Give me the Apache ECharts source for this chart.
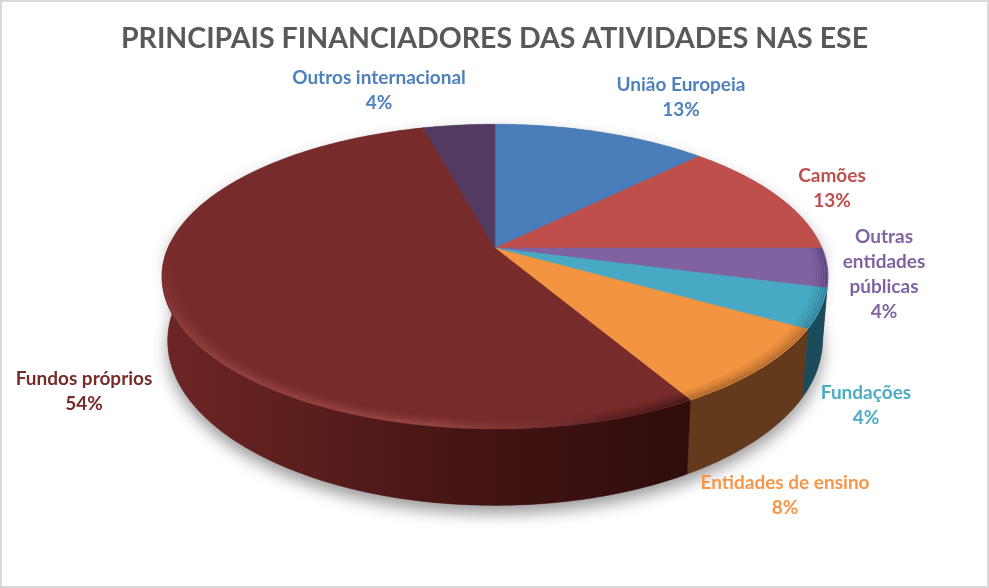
<!DOCTYPE html>
<html>
<head>
<meta charset="utf-8">
<style>
    html,body{margin:0;padding:0;background:#fff;}
    #chart{width:989px;height:588px;}
</style>
<script src="https://cdn.jsdelivr.net/npm/echarts@6/dist/echarts.min.js"></script>
</head>
<body>
<div id="chart"></div>
<script>
const categories = ['União Europeia', 'Camões', 'Outras\nentidades\npúblicas', 'Fundações', 'Entidades de ensino', 'Fundos próprios', 'Outros internacional'];
const shares = [12.5, 12.5, 4.17, 4.17, 8.33, 54.17, 4.17];
const titleText = 'PRINCIPAIS FINANCIADORES DAS ATIVIDADES NAS ESE';

// slice look, same order as categories
const topColors = ['#4A7EBB', '#BE4F4B', '#8062A0', '#47A9C3', '#F39441', '#772B2A', '#533A60'];
const wallColors = ['#2b4a70', '#703030', '#3c2c55', '#1A4C5C', '#633A1C', '#5a1e1e', '#33243f'];
const labelColors = ['#4F81BD', '#C0504D', '#8064A2', '#4BACC6', '#F79646', '#772C2A', '#4F81BD'];
const rimColors = ['40,60,100', '80,30,30', '40,28,70', '20,70,90', '90,50,20', '175,95,90', '40,28,60'];
// centre of the first text line
const labelSpots = [[681, 85], [832, 176], [884, 237], [866, 393], [785, 483], [84, 379], [379, 78]];

// projected disc: apex of the pie, radii, perspective and thickness
const cx = 495, cy = 248, ra = 327, rb = 147, persp = 0.188, depth = 62, footShrink = 0.983;

const total = shares.reduce((a, b) => a + b, 0);

function sliceAngles(i) {
    let before = 0;
    for (let j = 0; j < i; j++) before += shares[j];
    return [before / total * 360, (before + shares[i]) / total * 360];
}

function rimPoint(deg, r, drop) {
    const t = deg * Math.PI / 180;
    const u = Math.sin(t) * r, v = Math.cos(t) * r;
    const w = 1 + persp * v;
    const sx = drop ? footShrink : 1;
    return [cx + ra * sx * u / w, cy - rb * v / w + (drop || 0) / w];
}

function arc(from, to, r, drop) {
    const pts = [];
    const n = Math.max(2, Math.ceil(Math.abs(to - from)));
    for (let i = 0; i <= n; i++) pts.push(rimPoint(from + (to - from) * i / n, r, drop));
    return pts;
}

function wallFill(i) {
    if (i !== 5) return wallColors[i];
    return new echarts.graphic.LinearGradient(165, 0, 690, 0, [
        {offset: 0, color: '#6c2524'},
        {offset: 0.25, color: '#5c1f1e'},
        {offset: 0.55, color: '#451514'},
        {offset: 0.85, color: '#380f0f'},
        {offset: 1, color: '#2f0c0c'}
    ], true);
}

// the maroon bevel shines on the left and front, and turns dark towards the orange slice
function frontGlow(alpha) {
    return new echarts.graphic.LinearGradient(687, 0, 440, 0, [
        {offset: 0, color: 'rgba(35,10,10,' + alpha * 1.4 + ')'},
        {offset: 0.3, color: 'rgba(50,15,15,' + alpha + ')'},
        {offset: 0.6, color: 'rgba(120,60,58,' + alpha * 0.6 + ')'},
        {offset: 1, color: 'rgba(185,100,95,' + alpha + ')'}
    ], true);
}

function sideGlow(alpha) {
    return new echarts.graphic.LinearGradient(0, 432, 0, 255, [
        {offset: 0, color: 'rgba(185,100,95,' + alpha + ')'},
        {offset: 0.6, color: 'rgba(185,100,95,' + alpha + ')'},
        {offset: 1, color: 'rgba(185,100,95,0)'}
    ], true);
}

function bevelLines(from, to, stroke) {
    const layers = [[0.96, 0.06], [0.967, 0.12], [0.974, 0.18], [0.981, 0.26], [0.988, 0.36], [0.995, 0.44]];
    return layers.map(function (b) {
        return {
            type: 'polyline',
            shape: {points: arc(from, to, b[0], 0)},
            style: {fill: 'none', stroke: stroke(b[1]), lineWidth: 1.6}
        };
    });
}

function renderShadow() {
    const pts = arc(90, 270, 1, depth).concat(arc(270, 450, 1, 0));
    return {
        type: 'polygon',
        shape: {points: pts},
        style: {fill: '#777', shadowBlur: 16, shadowColor: 'rgba(0,0,0,0.4)', shadowOffsetY: 8, shadowOffsetX: 0}
    };
}

function renderWall(params, api) {
    const i = api.value(0);
    const a = sliceAngles(i);
    const from = Math.max(a[0], 90), to = Math.min(a[1], 272);
    if (to <= from) return null;
    const pts = arc(from, to, 1, 0).concat(arc(to, from, 1, depth));
    return {
        type: 'polygon',
        shape: {points: pts},
        style: {fill: wallFill(i), stroke: wallFill(i), lineWidth: 0.5}
    };
}

function renderTop(params, api) {
    const i = api.value(0);
    const a = sliceAngles(i);
    let children = [{
        type: 'polygon',
        shape: {points: [[cx, cy]].concat(arc(a[0], a[1], 1, 0))},
        style: {fill: topColors[i], stroke: topColors[i], lineWidth: 0.5}
    }];
    if (i === 5) {
        const bend = 192;
        children = children.concat(bevelLines(a[0], bend, frontGlow), bevelLines(bend, 272, sideGlow));
    } else if (a[1] > 90 && a[0] < 270) {
        const rgb = rimColors[i];
        children = children.concat(bevelLines(a[0], a[1], function (alpha) {
            return 'rgba(' + rgb + ',' + alpha + ')';
        }));
    }
    return {type: 'group', children: children};
}

function renderLabel(params, api) {
    const i = api.value(0);
    const spot = labelSpots[i];
    return {
        type: 'text',
        style: {
            x: spot[0],
            y: spot[1] - 12.5,
            text: categories[i] + '\n' + Math.round(api.value(1)) + '%',
            fill: labelColors[i],
            font: 'bold 19px Lato',
            align: 'center',
            verticalAlign: 'top',
            lineHeight: 25
        }
    };
}

const sliceData = shares.map((v, i) => [i, v]);

const chart = echarts.init(document.getElementById('chart'), null, {renderer: 'canvas'});
chart.setOption({
    animation: false,
    backgroundColor: '#fff',
    title: {
        text: titleText,
        left: 'center',
        top: 19,
        textStyle: {color: '#595959', fontFamily: 'Lato', fontWeight: 'bold', fontSize: 28.5}
    },
    graphic: [{
        type: 'rect',
        silent: true,
        z: -1,
        shape: {x: 0, y: 0, width: 989, height: 588},
        style: {fill: 'none', stroke: '#d9d9d9', lineWidth: 4}
    }],
    series: [
        {type: 'custom', coordinateSystem: 'none', silent: true, z: 2, data: [[0]], renderItem: renderShadow},
        {type: 'custom', coordinateSystem: 'none', silent: true, z: 3, data: sliceData, renderItem: renderWall},
        {type: 'custom', coordinateSystem: 'none', silent: true, z: 4, data: sliceData, renderItem: renderTop},
        {type: 'custom', coordinateSystem: 'none', silent: true, z: 5, data: sliceData, renderItem: renderLabel}
    ]
});
</script>
</body>
</html>
